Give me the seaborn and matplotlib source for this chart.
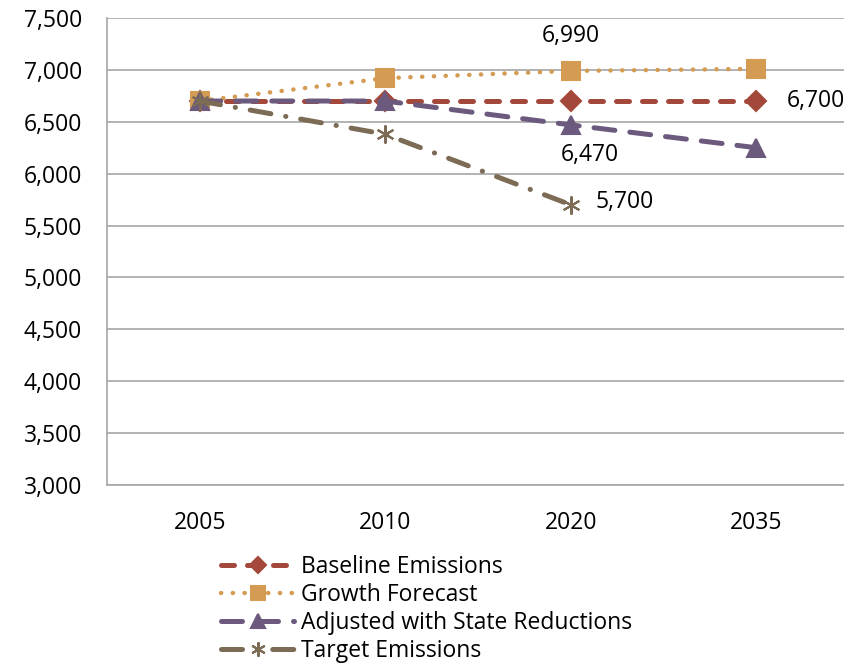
import numpy as np
import seaborn as sns
import matplotlib.pyplot as plt

years = ["2005", "2010", "2020", "2035"]
baseline = [6700, 6700, 6700, 6700]
growth = [6700, 6920, 6990, 7010]
adjusted = [6700, 6700, 6470, 6250]
target = [6700, 6380, 5700]

sns.set_style("white")
plt.rcParams["font.family"] = ["Open Sans", "DejaVu Sans"]
plt.rcParams["text.color"] = "black"
plt.rcParams["xtick.color"] = "black"
plt.rcParams["ytick.color"] = "black"

GRID = "#a6a6a6"
FS = 16.5
fig = plt.figure(figsize=(8.44, 6.68), dpi=100)
ax = fig.add_axes([107 / 844, 1 - 485 / 668, 742 / 844, 467 / 668])

x = np.arange(len(years))

series = [
    ("Baseline Emissions", baseline, "#a3483b", (0, (2.6, 2.6)), "D", 10, 3.6),
    ("Growth Forecast", growth, "#d49b52", (0, (0.05, 2.6)), "s", 13, 3.2),
    ("Adjusted with State Reductions", adjusted, "#6c5a7e", (0, (4.2, 3.0)), "^", 13, 3.6),
    ("Target Emissions", target, "#7c6b55", (0, (4.2, 3.0, 0.05, 3.0)), (6, 2, 0), 13, 3.6),
]

for label, vals, color, ls, marker, ms, lw in series:
    sns.lineplot(x=x[:len(vals)], y=vals, ax=ax, color=color, linestyle=ls,
                 marker=marker, markersize=ms, linewidth=lw, label=label,
                 markeredgecolor=color, markeredgewidth=1.5,
                 dash_capstyle="round")

ax.set_xlim(-0.5, 3.5)
ax.set_ylim(3000, 7500)
ax.set_yticks(np.arange(3000, 7501, 500))
ax.set_yticklabels([f"{v:,}" for v in range(3000, 7501, 500)])
ax.set_xticks(x)
ax.set_xticklabels(years)
ax.set_xticks(np.arange(-0.5, 3.6, 1), minor=True)
ax.tick_params(axis="x", which="major", length=0, pad=19, labelsize=FS)
ax.tick_params(axis="x", which="minor", length=6, width=1.2, color=GRID, direction="out")
ax.tick_params(axis="y", length=5, width=1.2, color=GRID, labelcolor="black",
               direction="out", pad=13, labelsize=FS)
ax.yaxis.grid(True, color=GRID, linewidth=1.2)
ax.set_axisbelow(True)
for side in ["top", "right"]:
    ax.spines[side].set_visible(False)
for side in ["left", "bottom"]:
    ax.spines[side].set_color(GRID)
    ax.spines[side].set_linewidth(1.2)
ax.set_xlabel("")
ax.set_ylabel("")

ax.annotate("6,990", (2, growth[2]), xytext=(0, 25), textcoords="offset points",
            ha="center", va="center", fontsize=FS)
ax.annotate("6,700", (3, baseline[3]), xytext=(22, 0), textcoords="offset points",
            ha="left", va="center", fontsize=FS)
ax.annotate("6,470", (2, adjusted[2]), xytext=(14, -22), textcoords="offset points",
            ha="center", va="center", fontsize=FS)
ax.annotate("5,700", (2, target[2]), xytext=(18, 2), textcoords="offset points",
            ha="left", va="center", fontsize=FS)

ax.legend(loc="upper left", bbox_to_anchor=(221 / 844, 1 - 555 / 668),
          bbox_transform=fig.transFigure, frameon=False, fontsize=FS,
          handlelength=3.2, labelspacing=0.18, handletextpad=0.3,
          markerscale=0.8, borderpad=0, borderaxespad=0)

fig.savefig("out.png", dpi=100)
